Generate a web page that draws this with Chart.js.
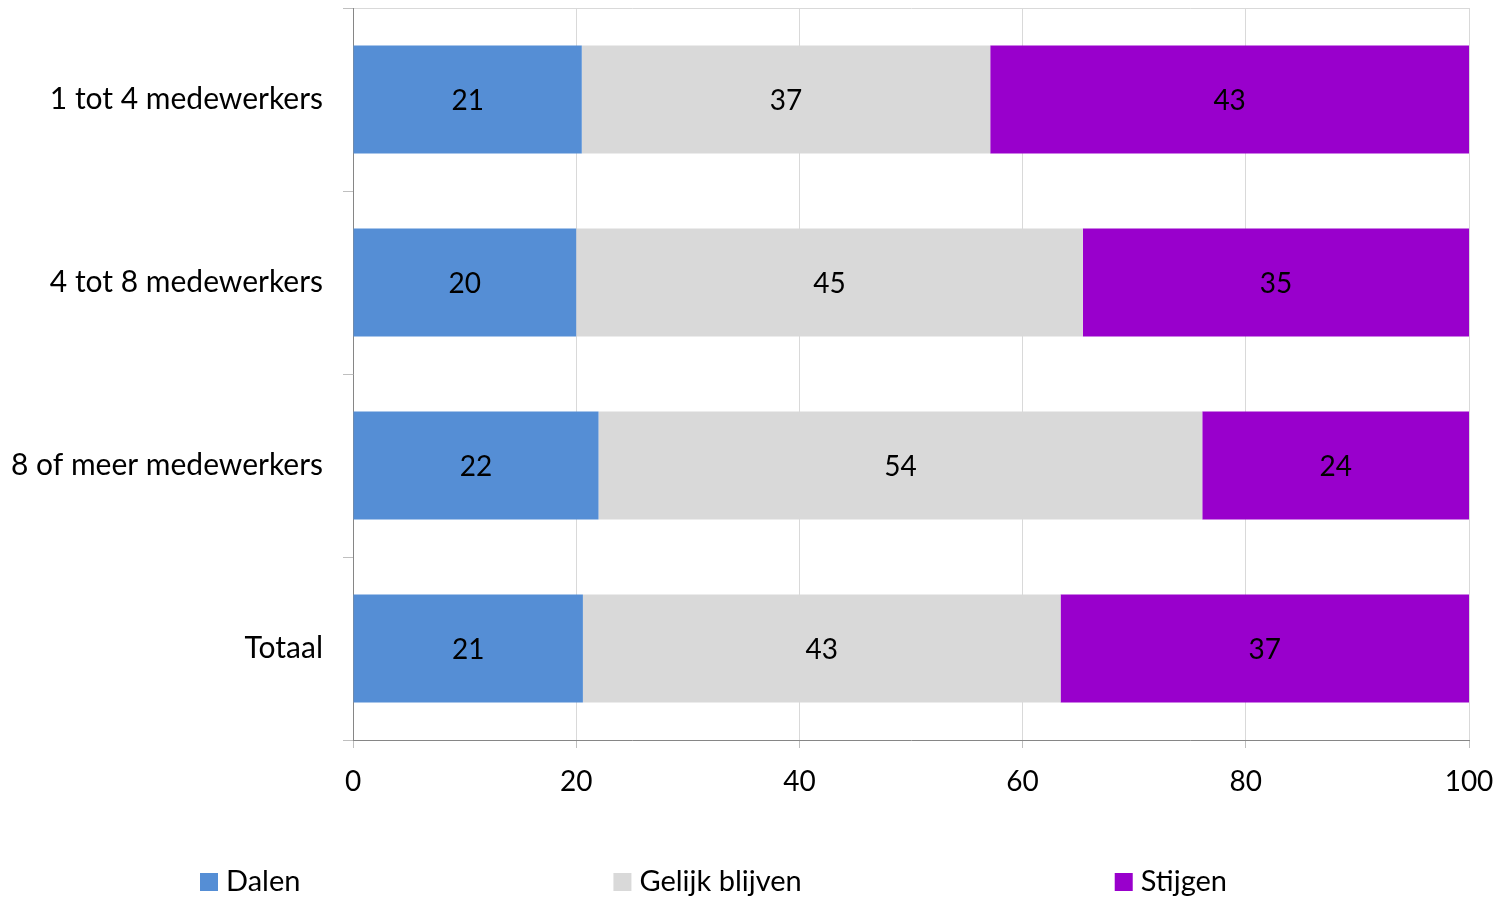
<!DOCTYPE html>
<html>
<head>
<meta charset="utf-8">
<script src="https://cdn.jsdelivr.net/npm/chart.js@4.4.0/dist/chart.umd.min.js"></script>
<style>
  html, body { margin: 0; padding: 0; background: #fff; }
  #wrap { width: 1501px; height: 900px; }
</style>
</head>
<body>
<div id="wrap"><canvas id="chart" width="1501" height="900"></canvas></div>
<script>
// categories and series (percentages)
const categories = ["1 tot 4 medewerkers", "4 tot 8 medewerkers", "8 of meer medewerkers", "Totaal"];
const dalen = [20.5, 20.0, 22.0, 20.6];
const gelijk = [36.6, 45.4, 54.1, 42.8];
const stijgen = [42.9, 34.6, 23.9, 36.6];
const xTicks = [0, 20, 40, 60, 80, 100];

const FONT = "Lato, 'Liberation Sans', sans-serif";

// values written in the middle of each bar segment
const barLabels = {
    id: "barLabels",
    afterDatasetsDraw(chart) {
        const ctx = chart.ctx;
        ctx.save();
        ctx.font = "28px " + FONT;
        ctx.fillStyle = "#000";
        ctx.textAlign = "center";
        ctx.textBaseline = "middle";
        chart.data.datasets.forEach((ds, i) => {
            chart.getDatasetMeta(i).data.forEach((bar, j) => {
                const p = bar.getProps(["x", "y", "base"], true);
                ctx.fillText(Math.round(ds.data[j]), (p.x + p.base) / 2, p.y + 1);
            });
        });
        ctx.restore();
    }
};

// legend spread along the bottom like the original
const bottomLegend = {
    id: "bottomLegend",
    afterDraw(chart) {
        const ctx = chart.ctx;
        ctx.save();
        ctx.font = "29px " + FONT;
        ctx.textBaseline = "middle";
        const y = 882;
        let x = 200;
        chart.data.datasets.forEach(ds => {
            ctx.fillStyle = ds.backgroundColor;
            ctx.fillRect(x, y - 9, 18, 18);
            ctx.fillStyle = "#000";
            ctx.textAlign = "left";
            ctx.fillText(ds.label, x + 26, y);
            x += 26 + ctx.measureText(ds.label).width + 313;
        });
        ctx.restore();
    }
};

new Chart(document.getElementById("chart"), {
    type: "bar",
    data: {
        labels: categories,
        datasets: [
            { label: "Dalen", data: dalen, backgroundColor: "#558ED5" },
            { label: "Gelijk blijven", data: gelijk, backgroundColor: "#D9D9D9" },
            { label: "Stijgen", data: stijgen, backgroundColor: "#9900CC" }
        ]
    },
    options: {
        indexAxis: "y",
        responsive: false,
        animation: false,
        layout: { padding: { top: 8, right: 32, bottom: 100, left: 0 } },
        datasets: { bar: { barPercentage: 0.59, categoryPercentage: 1 } },
        scales: {
            x: {
                stacked: true,
                min: 0,
                max: 100,
                afterBuildTicks(scale) { scale.ticks = xTicks.map(v => ({ value: v })); },
                afterFit(scale) {
                    scale.height = 60;
                    scale.paddingLeft = 0;
                    scale.paddingRight = 0;
                },
                grid: { color: "#d9d9d9", tickColor: "#bfbfbf", tickLength: 8 },
                border: { color: "#868686" },
                ticks: { color: "#000", padding: 17, font: { family: FONT, size: 28 } }
            },
            y: {
                stacked: true,
                afterFit(scale) {
                    scale.width = 353;
                    scale.paddingTop = 0;
                    scale.paddingBottom = 0;
                },
                grid: {
                    offset: true,
                    drawOnChartArea: true,
                    color: c => (c.index === 0 ? "#d9d9d9" : "rgba(0,0,0,0)"),
                    tickColor: "#bfbfbf",
                    tickLength: 10
                },
                border: { color: "#868686" },
                ticks: { color: "#000", padding: 20, font: { family: FONT, size: 30 } }
            }
        },
        plugins: {
            legend: { display: false },
            tooltip: { enabled: false }
        }
    },
    plugins: [barLabels, bottomLegend]
});
</script>
</body>
</html>
